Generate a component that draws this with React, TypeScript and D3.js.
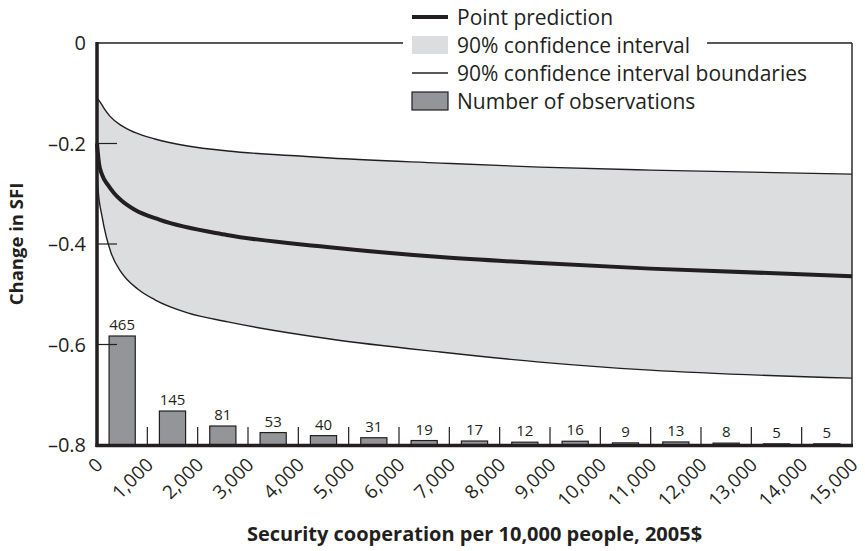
import React from 'react';
import * as d3 from 'd3';

const xTicks = [0, 1000, 2000, 3000, 4000, 5000, 6000, 7000, 8000, 9000, 10000, 11000, 12000, 13000, 14000, 15000];
const yTicks = [0, -0.2, -0.4, -0.6, -0.8];
const binStarts = [0, 1000, 2000, 3000, 4000, 5000, 6000, 7000, 8000, 9000, 10000, 11000, 12000, 13000, 14000];
const observations = [465, 145, 81, 53, 40, 31, 19, 17, 12, 16, 9, 13, 8, 5, 5];

const upperBound: [number, number][] = [
  [0, -0.11], [60, -0.117], [140, -0.13], [260, -0.146], [480, -0.164], [750, -0.178],
  [1150, -0.191], [1800, -0.205], [2600, -0.215], [4030, -0.225], [4630, -0.229],
  [6820, -0.239], [8800, -0.247], [10990, -0.253], [15000, -0.261],
];
const pointPrediction: [number, number][] = [
  [0, -0.2], [40, -0.24], [100, -0.262], [220, -0.283], [340, -0.299], [480, -0.313],
  [750, -0.332], [1250, -0.352], [2580, -0.382], [4570, -0.406], [6820, -0.426],
  [8800, -0.438], [10990, -0.449], [15000, -0.464],
];
const lowerBound: [number, number][] = [
  [0, -0.26], [20, -0.29], [100, -0.345], [180, -0.384], [280, -0.418], [480, -0.456],
  [815, -0.49], [1150, -0.511], [1800, -0.537], [2600, -0.555], [4630, -0.589],
  [6820, -0.615], [8800, -0.635], [10990, -0.651], [15000, -0.667],
];

const legendItems = [
  'Point prediction',
  '90% confidence interval',
  '90% confidence interval boundaries',
  'Number of observations',
];

const W = 865;
const H = 551;
const FONT = "'Open Sans', 'Noto Sans', sans-serif";
const INK = '#231f20';

export default function App() {
  const left = 97, right = 852, top = 43, bottom = 445;
  const x = d3.scaleLinear().domain([0, 15000]).range([left, right]);
  const y = d3.scaleLinear().domain([-0.8, 0]).range([bottom, top]);
  const yCount = d3.scaleLinear().domain([0, 1715]).range([bottom, top]);

  const lineGen = d3
    .line<[number, number]>()
    .x((d) => x(d[0]))
    .y((d) => y(d[1]))
    .curve(d3.curveMonotoneX);
  const upperPath = lineGen(upperBound) || '';
  const lowerPath = lineGen(lowerBound) || '';
  const lowerRev = d3
    .line<[number, number]>()
    .x((d) => x(d[0]))
    .y((d) => y(d[1]))
    .curve(d3.curveMonotoneX)([...lowerBound].reverse()) || '';
  const bandPath = upperPath + 'L' + lowerRev.slice(1) + 'Z';
  const pointPath = lineGen(pointPrediction) || '';

  const legendX = 412, legendSw = 36, legendTextX = 457;
  const legendRowY = [17, 45, 73, 101];

  return (
    <svg width={W} height={H} style={{ position: 'absolute', left: 0, top: 0, background: '#fff' }} fontFamily={FONT}>
      <rect x={0} y={0} width={W} height={H} fill="#fff" />
      {/* confidence band */}
      <path d={bandPath} fill="#dcdddf" stroke="none" />
      <path d={upperPath} fill="none" stroke={INK} strokeWidth={1.4} />
      <path d={lowerPath} fill="none" stroke={INK} strokeWidth={1.4} />
      <path d={pointPath} fill="none" stroke={INK} strokeWidth={4} />

      {/* bars */}
      {binStarts.map((b, i) => {
        const x0 = x(b + 240);
        const x1 = x(b + 760);
        const yt = yCount(observations[i]);
        return (
          <g key={'bar' + i}>
            <rect x={x0} y={yt} width={x1 - x0} height={bottom - yt} fill="#939598" stroke={INK} strokeWidth={1.2} />
            <text x={(x0 + x1) / 2} y={yt - 6} textAnchor="middle" fontSize={15} fill={INK}>
              {observations[i]}
            </text>
          </g>
        );
      })}

      {/* bin ticks */}
      {xTicks.slice(1, -1).map((t) => (
        <line key={'bt' + t} x1={x(t)} x2={x(t)} y1={bottom - 18} y2={bottom} stroke={INK} strokeWidth={1.2} />
      ))}

      {/* y ticks */}
      {yTicks.slice(1, -1).map((t) => (
        <line key={'yt' + t} x1={left} x2={left + 20} y1={y(t)} y2={y(t)} stroke={INK} strokeWidth={1.2} />
      ))}

      {/* frame */}
      <line x1={left} x2={403} y1={top} y2={top} stroke={INK} strokeWidth={1.4} />
      <line x1={707} x2={right} y1={top} y2={top} stroke={INK} strokeWidth={1.4} />
      <line x1={right} x2={right} y1={top} y2={bottom} stroke={INK} strokeWidth={1.4} />
      <line x1={left} x2={left} y1={top - 1} y2={bottom + 2} stroke={INK} strokeWidth={3.5} />
      <line x1={left - 1.5} x2={right + 1} y1={bottom + 0.5} y2={bottom + 0.5} stroke={INK} strokeWidth={3.5} />

      {/* y tick labels */}
      {yTicks.map((t) => (
        <text key={'yl' + t} x={86} y={y(t)} dy="0.36em" textAnchor="end" fontSize={20} fill={INK}>
          {t === 0 ? '0' : '\u2013' + Math.abs(t).toFixed(1)}
        </text>
      ))}

      {/* x tick labels */}
      {xTicks.map((t) => (
        <text
          key={'xl' + t}
          transform={`translate(${x(t) + 7},${466}) rotate(-45)`}
          textAnchor="end"
          fontSize={19}
          fill={INK}
        >
          {d3.format(',')(t)}
        </text>
      ))}

      {/* axis titles */}
      <text x={(left + right) / 2} y={541} textAnchor="middle" fontSize={20} fontWeight="bold" fill={INK}>
        Security cooperation per 10,000 people, 2005$
      </text>
      <text transform={`translate(23,${(top + bottom) / 2}) rotate(-90)`} textAnchor="middle" fontSize={18.5} fontWeight="bold" fill={INK}>
        Change in SFI
      </text>

      {/* legend */}
      <line x1={legendX} x2={legendX + legendSw} y1={legendRowY[0]} y2={legendRowY[0]} stroke={INK} strokeWidth={4} />
      <rect x={legendX} y={legendRowY[1] - 9} width={legendSw} height={18} fill="#dcdddf" />
      <line x1={legendX} x2={legendX + legendSw} y1={legendRowY[2]} y2={legendRowY[2]} stroke={INK} strokeWidth={1.4} />
      <rect x={legendX} y={legendRowY[3] - 9} width={legendSw} height={18} fill="#939598" stroke={INK} strokeWidth={1.2} />
      {legendItems.map((s, i) => (
        <text key={'lg' + i} x={legendTextX} y={legendRowY[i]} dy="0.36em" fontSize={21} fill={INK}>
          {s}
        </text>
      ))}
    </svg>
  );
}
